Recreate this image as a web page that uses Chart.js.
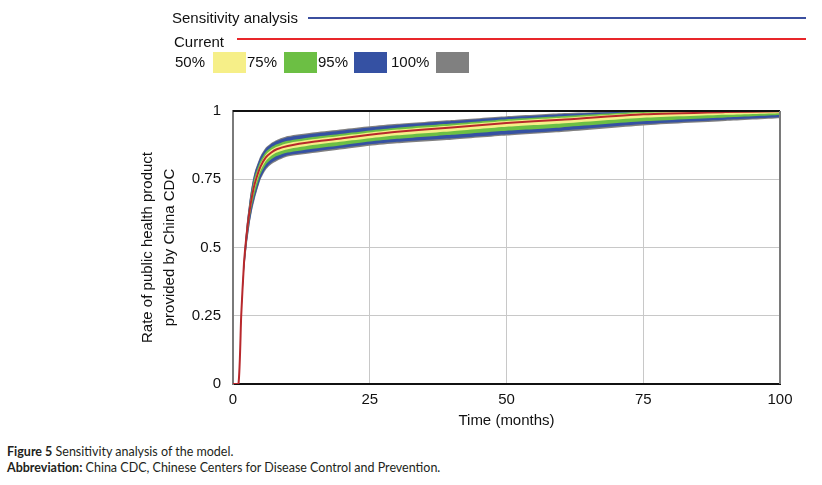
<!DOCTYPE html>
<html>
<head>
<meta charset="utf-8">
<script src="https://cdn.jsdelivr.net/npm/chart.js@4/dist/chart.umd.min.js"></script>
<style>
  body { margin: 0; background: #fff; width: 822px; height: 485px; overflow: hidden; position: relative; font-family: "Liberation Sans", Arial, sans-serif; }
  #wrap { position: absolute; left: 0; top: 0; width: 822px; height: 440px; }
  .lg { position: absolute; font-size: 15px; color: #111; line-height: 18px; }
  .ln { position: absolute; }
  .sw { position: absolute; width: 33px; height: 21px; }
  .cap { position: absolute; left: 7px; font-family: Lato, "Open Sans", sans-serif; font-size: 12.5px; color: #231f20; }
</style>
</head>
<body>
<div id="wrap"><canvas id="chart"></canvas></div>

<div class="lg" style="left:172px; top:9px;">Sensitivity analysis</div>
<div class="ln" style="left:308px; top:17px; width:498px; height:1.5px; background:#3b4f9f;"></div>
<div class="lg" style="left:174px; top:33px;">Current</div>
<div class="ln" style="left:237px; top:38px; width:569px; height:2px; background:#e8262a;"></div>
<div class="lg" style="left:175px; top:53px;">50%</div>
<div class="sw" style="left:213px; top:52px; background:#f6ef88;"></div>
<div class="lg" style="left:247px; top:53px;">75%</div>
<div class="sw" style="left:284px; top:52px; background:#6cbf44;"></div>
<div class="lg" style="left:318px; top:53px;">95%</div>
<div class="sw" style="left:354px; top:52px; background:#3551a3;"></div>
<div class="lg" style="left:391px; top:53px;">100%</div>
<div class="sw" style="left:436px; top:52px; background:#808080;"></div>

<div class="cap" style="top:444px;"><b>Figure 5</b> Sensitivity analysis of the model.</div>
<div class="cap" style="top:460px;"><b>Abbreviation:</b> China CDC, Chinese Centers for Disease Control and Prevention.</div>

<script>
// time axis (months)
const months = [0, 1, 1.5, 2, 2.5, 3, 3.5, 4, 5, 6, 7, 8, 10, 15, 20, 25, 30, 40, 50, 60, 75, 90, 100];

// current run
const current  = [0, 0, 0.25, 0.44, 0.55, 0.63, 0.69, 0.735, 0.795, 0.83, 0.848, 0.86, 0.872, 0.888, 0.90, 0.913, 0.924, 0.94, 0.956, 0.968, 0.988, 0.996, 0.999];

// confidence bounds from the sensitivity runs
const upper50  = [0, 0, 0.252, 0.447, 0.56, 0.642, 0.703, 0.749, 0.806, 0.84, 0.858, 0.869, 0.882, 0.897, 0.909, 0.921, 0.932, 0.947, 0.963, 0.975, 0.993, 0.999, 1.0];
const lower50  = [0, 0, 0.245, 0.43, 0.537, 0.615, 0.674, 0.718, 0.781, 0.817, 0.836, 0.848, 0.86, 0.876, 0.888, 0.9, 0.911, 0.926, 0.942, 0.954, 0.975, 0.986, 0.992];
const upper75  = [0, 0, 0.255, 0.453, 0.57, 0.653, 0.717, 0.762, 0.817, 0.85, 0.867, 0.878, 0.891, 0.906, 0.917, 0.929, 0.939, 0.954, 0.97, 0.981, 0.997, 1.0, 1.0];
const lower75  = [0, 0, 0.24, 0.42, 0.524, 0.6, 0.658, 0.7, 0.767, 0.804, 0.823, 0.835, 0.848, 0.863, 0.875, 0.888, 0.898, 0.913, 0.928, 0.94, 0.962, 0.976, 0.985];
const upper95  = [0, 0, 0.26, 0.46, 0.58, 0.665, 0.73, 0.775, 0.83, 0.862, 0.879, 0.89, 0.904, 0.918, 0.929, 0.94, 0.949, 0.963, 0.977, 0.988, 1.0, 1.0, 1.0];
const lower95  = [0, 0, 0.235, 0.41, 0.51, 0.585, 0.643, 0.685, 0.752, 0.79, 0.81, 0.822, 0.838, 0.852, 0.865, 0.878, 0.887, 0.9, 0.915, 0.928, 0.952, 0.968, 0.977];
const upper100 = [0, 0, 0.264, 0.464, 0.584, 0.669, 0.734, 0.779, 0.834, 0.866, 0.883, 0.894, 0.908, 0.922, 0.933, 0.944, 0.953, 0.967, 0.981, 0.992, 1.0, 1.0, 1.0];
const lower100 = [0, 0, 0.232, 0.405, 0.505, 0.58, 0.637, 0.679, 0.747, 0.785, 0.805, 0.817, 0.833, 0.847, 0.86, 0.873, 0.882, 0.895, 0.91, 0.923, 0.947, 0.963, 0.973];

const yTicks = [0, 0.25, 0.5, 0.75, 1];
const xTicks = [0, 25, 50, 75, 100];

const pts = arr => arr.map((v, i) => ({ x: months[i], y: v }));
const band = (data, target, color) => ({ data: pts(data), fill: target, backgroundColor: color, borderWidth: 0, pointRadius: 0, tension: 0.2 });
const edge = data => ({ data: pts(data), fill: false, borderWidth: 0, pointRadius: 0, tension: 0.2 });

// draws the top and right edges of the plot box
const frame = {
    id: 'frame',
    afterDatasetsDraw(chart) {
        const { ctx, chartArea: a } = chart;
        ctx.save();
        ctx.lineWidth = 2;
        ctx.strokeStyle = '#111';
        ctx.beginPath(); ctx.moveTo(a.left, a.top); ctx.lineTo(a.right, a.top); ctx.stroke();
        ctx.strokeStyle = '#7a7a7a';
        ctx.beginPath(); ctx.moveTo(a.right, a.top); ctx.lineTo(a.right, a.bottom); ctx.stroke();
        ctx.restore();
    }
};

const font = { family: '"Liberation Sans", Arial, sans-serif', size: 15 };

new Chart(document.getElementById('chart'), {
    type: 'line',
    data: {
        datasets: [
            { data: pts(current), borderColor: '#b8282c', borderWidth: 2, pointRadius: 0, fill: false, tension: 0.2 },
            band(upper50, 2, '#f6ef88'), edge(lower50),
            band(upper75, 4, '#6cbf44'), edge(lower75),
            band(upper95, 6, '#3551a3'), edge(lower95),
            band(upper100, 8, '#808080'), edge(lower100)
        ]
    },
    plugins: [frame],
    options: {
        responsive: true,
        maintainAspectRatio: false,
        animation: false,
        layout: { padding: { left: 135, right: 42, top: 111, bottom: 0 } },
        plugins: { legend: { display: false }, tooltip: { enabled: false } },
        scales: {
            x: {
                type: 'linear', min: 0, max: 100,
                afterBuildTicks: s => { s.ticks = xTicks.map(v => ({ value: v })); },
                afterFit: s => { s.height = 56; },
                ticks: { color: '#111', font, padding: 7, callback: v => String(v) },
                grid: { color: '#c8c8c8', drawTicks: false },
                border: { color: '#111', width: 2 },
                title: { display: true, text: 'Time (months)', color: '#111', font, padding: { top: 0, bottom: 10 } }
            },
            y: {
                min: 0, max: 1,
                afterBuildTicks: s => { s.ticks = yTicks.map(v => ({ value: v })); },
                afterFit: s => { s.width = 98; },
                ticks: { color: '#111', font, padding: 12, callback: v => String(v) },
                grid: { color: '#c8c8c8', drawTicks: false },
                border: { color: '#7a7a7a', width: 2 },
                title: { display: true, text: ['Rate of public health product', 'provided by China CDC'], color: '#111', font: { ...font, lineHeight: 1.45 }, padding: { top: 2, bottom: 0 } }
            }
        }
    }
});
</script>
</body>
</html>
